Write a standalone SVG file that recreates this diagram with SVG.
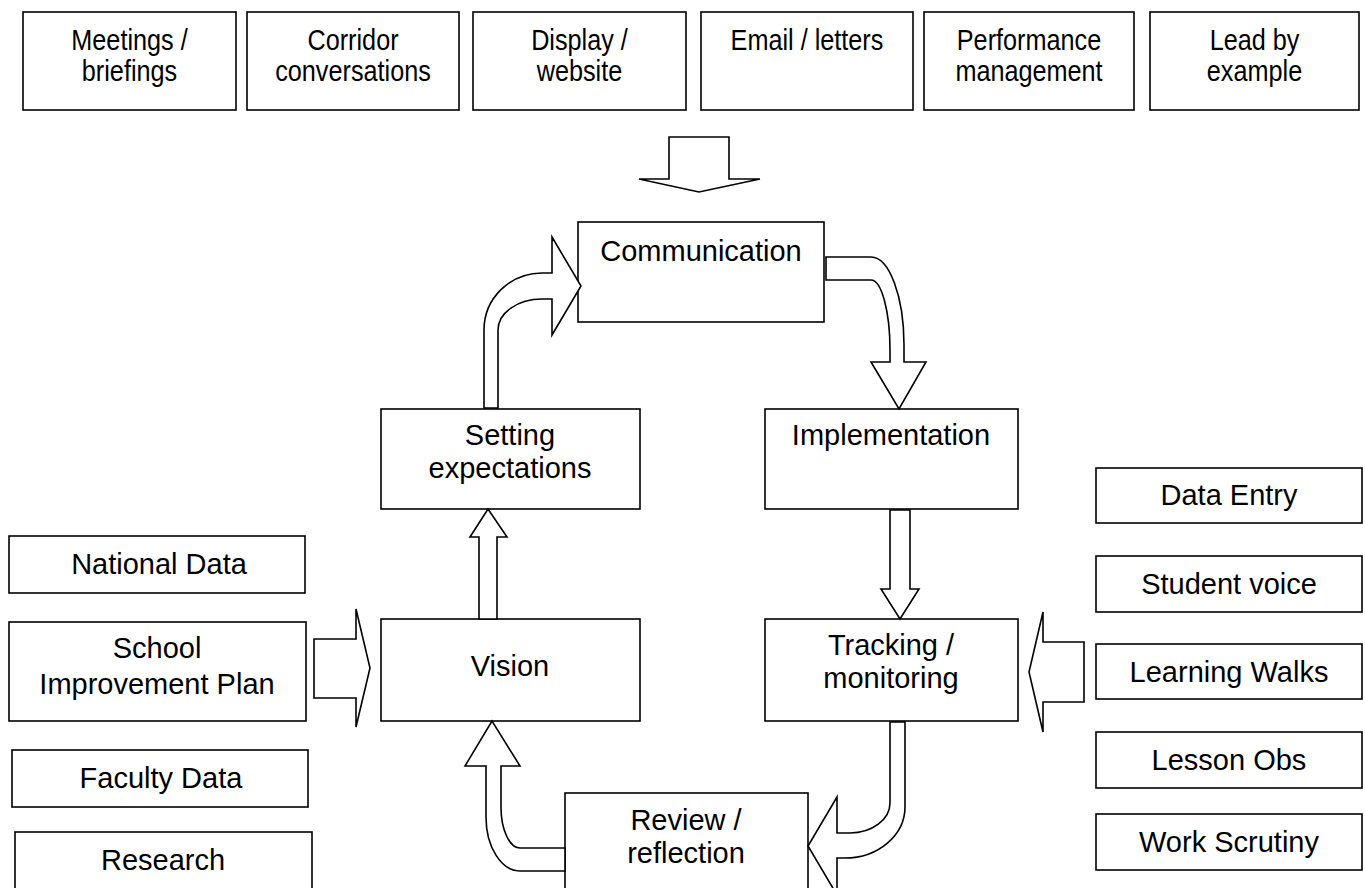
<svg xmlns="http://www.w3.org/2000/svg" width="1365" height="888" viewBox="0 0 1365 888">
<style>
.box{fill:#fff;stroke:#000;stroke-width:1.6}
.arr{fill:#fff;stroke:#000;stroke-width:1.6;stroke-linejoin:miter}
text{font-family:"Liberation Sans",Arial,sans-serif;font-size:29px;fill:#000;text-anchor:middle}
</style>
<rect width="1365" height="888" fill="#fff"/>
<g id="top-row">
<g id="meetings"><rect class="box" x="23" y="12" width="213" height="98"/><text transform="matrix(0.87 0 0 1 129.5 0)" y="50">Meetings /</text><text transform="matrix(0.87 0 0 1 129.5 0)" y="81">briefings</text></g>
<g id="corridor"><rect class="box" x="247" y="12" width="212" height="98"/><text transform="matrix(0.87 0 0 1 353 0)" y="50">Corridor</text><text transform="matrix(0.87 0 0 1 353 0)" y="81">conversations</text></g>
<g id="display"><rect class="box" x="473" y="12" width="213" height="98"/><text transform="matrix(0.87 0 0 1 579.5 0)" y="50">Display /</text><text transform="matrix(0.87 0 0 1 579.5 0)" y="81">website</text></g>
<g id="email"><rect class="box" x="701" y="12" width="212" height="98"/><text transform="matrix(0.87 0 0 1 807 0)" y="50">Email / letters</text></g>
<g id="performance"><rect class="box" x="924" y="12" width="210" height="98"/><text transform="matrix(0.87 0 0 1 1029 0)" y="50">Performance</text><text transform="matrix(0.87 0 0 1 1029 0)" y="81">management</text></g>
<g id="lead"><rect class="box" x="1150" y="12" width="209" height="98"/><text transform="matrix(0.87 0 0 1 1254.5 0)" y="50">Lead by</text><text transform="matrix(0.87 0 0 1 1254.5 0)" y="81">example</text></g>
</g>
<g id="communication"><rect class="box" x="578" y="222" width="246" height="100"/><text x="701" y="261">Communication</text></g>
<g id="setting"><rect class="box" x="381" y="409" width="259" height="100"/><text x="510" y="445">Setting</text><text x="510" y="478">expectations</text></g>
<g id="implementation"><rect class="box" x="765" y="409" width="253" height="100"/><text x="891" y="445">Implementation</text></g>
<g id="vision"><rect class="box" x="381" y="619" width="259" height="102"/><text x="510" y="676">Vision</text></g>
<g id="tracking"><rect class="box" x="765" y="619" width="253" height="102"/><text x="891" y="655">Tracking /</text><text x="891" y="688">monitoring</text></g>
<g id="review"><rect class="box" x="565" y="793" width="243" height="110"/><text x="686" y="830">Review /</text><text x="686" y="863">reflection</text></g>
<g id="national-data"><rect class="box" x="9" y="536" width="296" height="57"/><text x="159" y="574">National Data</text></g>
<g id="sip"><rect class="box" x="9" y="622" width="297" height="99"/><text x="157" y="658">School</text><text x="157" y="694">Improvement Plan</text></g>
<g id="faculty-data"><rect class="box" x="12" y="750" width="296" height="57"/><text x="161" y="788">Faculty Data</text></g>
<g id="research"><rect class="box" x="15" y="832" width="297" height="70"/><text x="163" y="870">Research</text></g>
<g id="data-entry"><rect class="box" x="1096" y="468" width="266" height="55"/><text x="1229" y="505">Data Entry</text></g>
<g id="student-voice"><rect class="box" x="1096" y="556" width="266" height="56"/><text x="1229" y="594">Student voice</text></g>
<g id="learning-walks"><rect class="box" x="1096" y="644" width="266" height="55"/><text x="1229" y="682">Learning Walks</text></g>
<g id="lesson-obs"><rect class="box" x="1096" y="732" width="266" height="56"/><text x="1229" y="770">Lesson Obs</text></g>
<g id="work-scrutiny"><rect class="box" x="1096" y="814" width="266" height="56"/><text x="1229" y="852">Work Scrutiny</text></g>
<g id="connectors">
<path class="arr" d="M669 137 L729 137 L729 179 L760 179 L699 192 L639 179 L669 179 Z"/>
<path class="arr" d="M484 408 L484 330 A58 57 0 0 1 542 273 L552 273 L552 237 L581 286 L552 335 L552 299 L542 299 A44 31 0 0 0 498 330 L498 408 Z"/>
<path class="arr" d="M826 257 L871 257 A33 88 0 0 1 904 345 L904 362 L926 362 L899 409 L871 362 L890 362 L890 350 A19 70 0 0 0 871 280 L826 280 Z"/>
<path class="arr" d="M479 619 L479 537 L470 537 L488 509 L507 537 L497 537 L497 619 Z"/>
<path class="arr" d="M890 510 L910 510 L910 589 L919 589 L900 619 L881 589 L890 589 Z"/>
<path class="arr" d="M314 639 L356 639 L356 609 L370 668 L356 727 L356 698 L314 698 Z"/>
<path class="arr" d="M1084 642 L1043 642 L1043 612 L1029 672 L1043 732 L1043 702 L1084 702 Z"/>
<path class="arr" d="M890 722 L905 722 L905 807 A60 51 0 0 1 845 858 L837 858 L837 895 L808 846 L837 797 L837 833 L850 833 A40 30 0 0 0 890 803 Z"/>
<path class="arr" d="M565 848 L520 848 A19 41 0 0 1 501 807 L501 766 L520 766 L492 721 L465 766 L486 766 L486 817 A34 54 0 0 0 520 871 L565 871 Z"/>
</g>
</svg>
